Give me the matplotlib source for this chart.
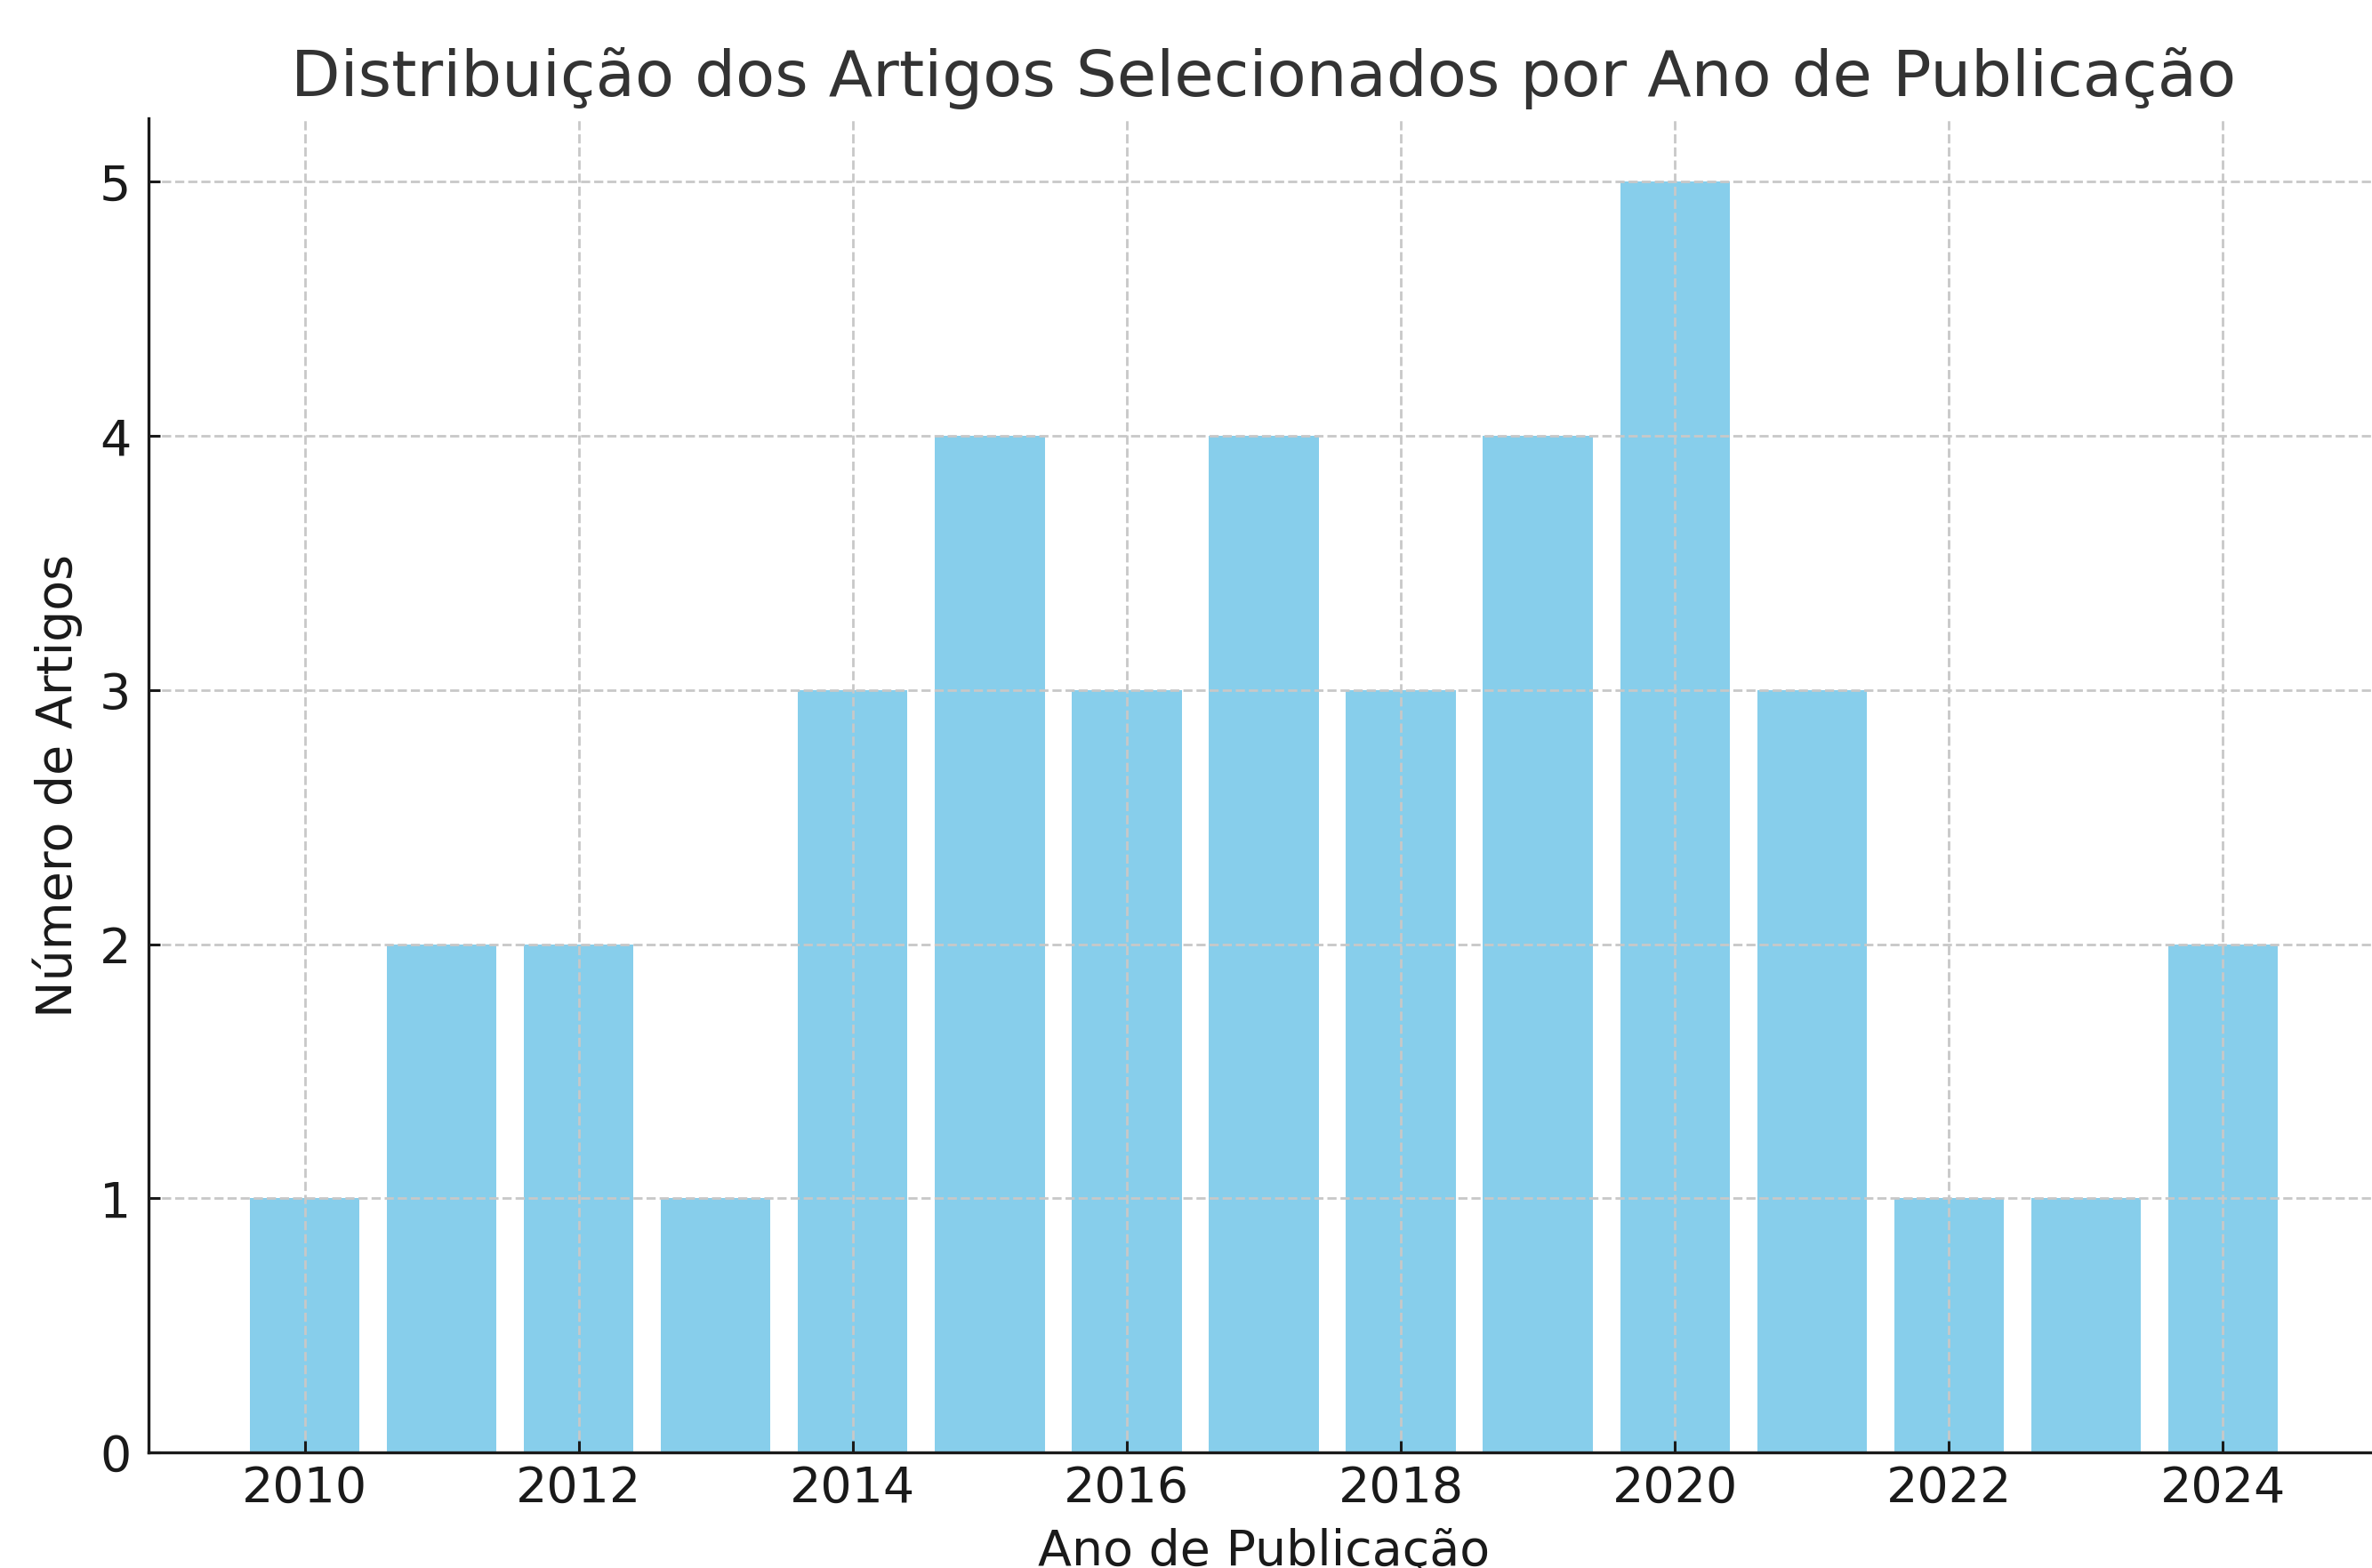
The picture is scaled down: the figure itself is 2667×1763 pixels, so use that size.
import matplotlib
matplotlib.use("Agg")
import matplotlib.pyplot as plt

anos = [2010, 2011, 2012, 2013, 2014, 2015, 2016, 2017, 2018, 2019, 2020, 2021, 2022, 2023, 2024]
artigos = [1, 2, 2, 1, 3, 4, 3, 4, 3, 4, 5, 3, 1, 1, 2]
xticks = [2010, 2012, 2014, 2016, 2018, 2020, 2022, 2024]
yticks = [0, 1, 2, 3, 4, 5]

plt.rcParams['font.family'] = ['DejaVu Sans']
fig = plt.figure(figsize=(2667/200, 1763/200), dpi=200)
ax = fig.add_axes([167/2667, 1 - 1633/1763, (2675 - 167)/2667, (1633 - 133)/1763])

ax.bar(anos, artigos, width=0.8, color='#87CEEB', zorder=1)
ax.grid(True, linestyle='--', color='#c8c8c8', linewidth=1.0, zorder=2)
ax.set_axisbelow(False)

ax.set_xticks(xticks)
ax.set_yticks(yticks)
ax.tick_params(direction='in', length=4.7, width=1.1, labelsize=20, colors='#1a1a1a')
ax.tick_params(axis='x', pad=5)
ax.tick_params(axis='y', pad=7)

for s in ['top', 'right']:
    ax.spines[s].set_visible(False)
for s in ['left', 'bottom']:
    ax.spines[s].set_linewidth(1.2)
    ax.spines[s].set_color('#1a1a1a')
    ax.spines[s].set_zorder(5)

ax.set_title('Distribuição dos Artigos Selecionados por Ano de Publicação', fontsize=26, color='#333333', pad=9)
ax.set_xlabel('Ano de Publicação', fontsize=20, color='#1a1a1a', labelpad=6)
ax.set_ylabel('Número de Artigos', fontsize=20, color='#1a1a1a', labelpad=7)

fig.savefig('out.png', dpi=200)
